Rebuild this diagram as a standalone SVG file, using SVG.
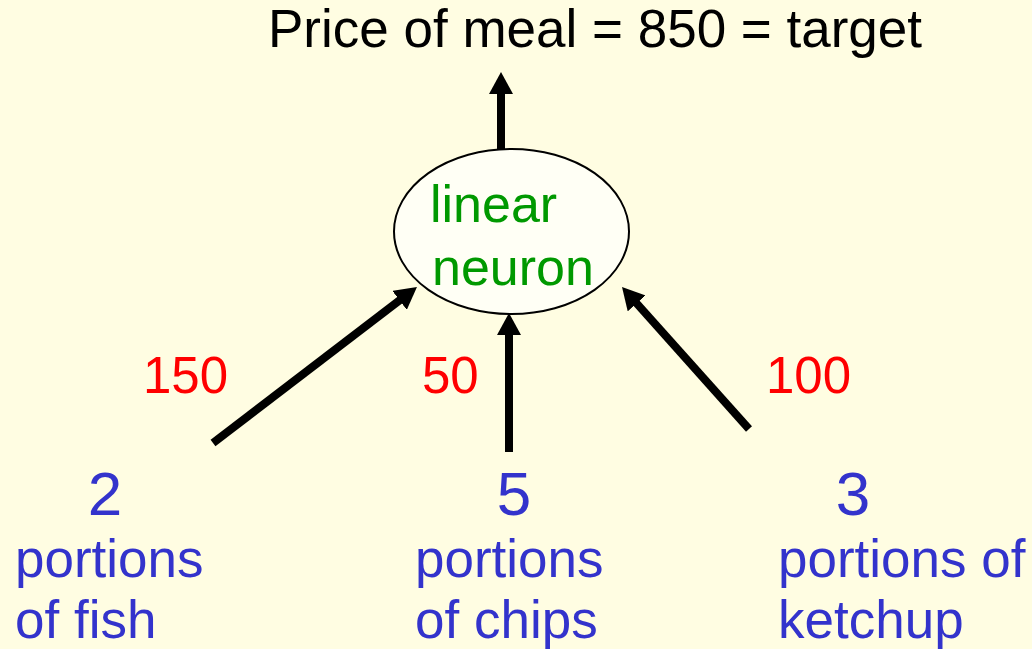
<svg xmlns="http://www.w3.org/2000/svg" width="1032" height="649" viewBox="0 0 1032 649">
<style>
text{font-family:"Liberation Sans",Arial,sans-serif}
.t{font-size:53px;fill:#000}
.g{font-size:52px;fill:#009900}
.r{font-size:51px;fill:#FF0000}
.n{font-size:62px;fill:#3333CC;text-anchor:middle}
.b{font-size:53px;fill:#3333CC}
.c{stroke:#000;stroke-width:8;fill:none;marker-end:url(#ah)}
</style>
<defs>
<marker id="ah" viewBox="0 0 22 24" refX="1" refY="12" markerWidth="22" markerHeight="24" orient="auto" markerUnits="userSpaceOnUse">
<path d="M0,0 L22,12 L0,24 z" fill="#000"/>
</marker>
</defs>
<rect width="1032" height="649" fill="#FFFDE2"/>
<g id="target"><text class="t" x="268" y="47">Price of meal = 850 = target</text></g>
<g id="neuron">
<ellipse cx="511.5" cy="231.5" rx="117.5" ry="82.5" fill="#FFFFF5" stroke="#000" stroke-width="2"/>
<text class="g" x="430" y="222">linear</text>
<text class="g" x="432" y="285">neuron</text>
</g>
<g id="fish"><text class="n" x="105" y="515">2</text><text class="b" x="15" y="577">portions</text><text class="b" x="15" y="638">of fish</text></g>
<g id="chips"><text class="n" x="514" y="515">5</text><text class="b" x="415" y="577">portions</text><text class="b" x="415" y="638">of chips</text></g>
<g id="ketchup"><text class="n" x="853" y="515">3</text><text class="b" x="778" y="577">portions of</text><text class="b" x="778" y="638">ketchup</text></g>
<g id="weights">
<text class="r" x="143" y="393">150</text>
<text class="r" x="422" y="393">50</text>
<text class="r" x="766" y="393">100</text>
</g>
<g id="connectors">
<line class="c" x1="501" y1="149" x2="501" y2="93"/>
<line class="c" x1="213" y1="443" x2="400.3" y2="299.7"/>
<line class="c" x1="509" y1="452" x2="509" y2="334"/>
<line class="c" x1="749" y1="429" x2="636" y2="302.6"/>
</g>
</svg>
